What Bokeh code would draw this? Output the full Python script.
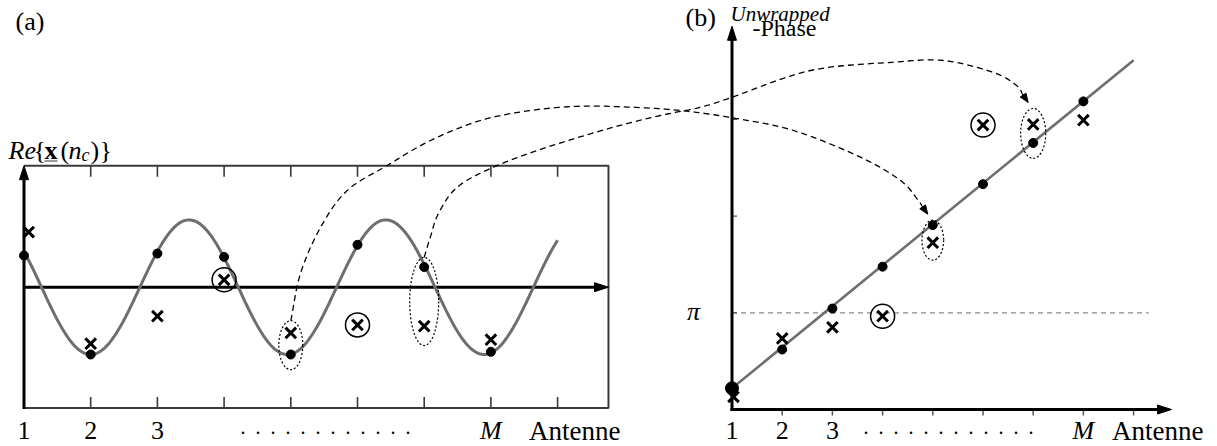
import numpy as np
from bokeh.plotting import figure
from bokeh.models import Range1d
from bokeh.core.properties import value
from bokeh.embed import file_html
from bokeh.resources import INLINE

# ---------------- data ----------------
antenna = [1, 2, 3, 4, 5, 6, 7, 8]
tick_antenna = [2, 3, 4, 5, 6, 7, 8, 9]

# (a) real part of the received sample per antenna
re_clean = [0.47, -1.00, 0.50, 0.45, -1.00, 0.63, 0.30, -0.96]
re_noisy_pos = [1.07, 2, 3, 4, 5, 6, 7, 8]
re_noisy = [0.82, -0.84, -0.43, 0.11, -0.68, -0.56, -0.58, -0.78]
re_circled = [4, 6]                 # antennas with a circled sample
re_period = 2.95                    # antennas per cycle of the carrier
re_trough = 2.0                     # antenna at the first minimum
re_curve_span = [1.0, 9.0]

# (b) unwrapped phase per antenna
ph_clean_pos = [1, 2, 3, 4, 5, 6, 7, 8]
ph_clean = [0.69, 1.95, 3.28, 4.64, 5.99, 7.32, 8.66, 10.01]
ph_noisy_pos = [1.03, 2, 3, 4, 5, 6, 7, 8]
ph_noisy = [0.41, 2.31, 2.67, 3.03, 5.42, 9.24, 9.26, 9.40]
ph_circled = [4, 6]
ph_line_pos = [1, 9]
ph_line = [0.69, 11.35]
phase_ticks = [np.pi, 2 * np.pi, 3 * np.pi]

# highlighted pairs (dotted ellipses): antenna, centre, width, height
ell_a_pos, ell_a_mid, ell_a_w, ell_a_h = [5, 7], [-0.862, -0.212], [0.36, 0.435], [0.728, 1.31]
ell_b_pos, ell_b_mid, ell_b_w, ell_b_h = [5, 7], [5.50, 8.97], [0.432, 0.50], [1.30, 1.62]

# ---------------- layout (canvas pixels) ----------------
W, H = 1217, 446
A_X0, A_DX = 23.5, 66.7      # antenna 1 position and spacing, panel (a)
A_Y0, A_DY = 286.7, 67.3     # zero line and pixels per unit, panel (a)
B_X0, B_DX = 731.5, 50.2     # antenna 1 position and spacing, panel (b)
B_Y0, B_DY = 409.0, 30.78    # zero phase and pixels per radian, panel (b)

A_XMAX, A_YMAX, A_YMIN = 9.763, 1.805, -1.795
B_XMAX, B_YMAX, B_PI_END = 9.755, 12.45, 9.30

FONT = value("'Liberation Serif', 'Times New Roman', serif")
BLACK, GREY, DARK = "black", "#6e6e6e", "#3a3a3a"
TY = -8  # vertical correction for text placement (pixels)


def a_px(n, v):
    return A_X0 + (n - 1) * A_DX, A_Y0 - v * A_DY


def b_px(n, ph):
    return B_X0 + (n - 1) * B_DX, B_Y0 - ph * B_DY


p = figure(width=W, height=H, x_range=Range1d(0, W), y_range=Range1d(H, 0),
           output_backend="svg", toolbar_location=None, min_border=0,
           x_axis_type=None, y_axis_type=None)
p.outline_line_color = None
p.background_fill_color = "white"
p.border_fill_color = "white"

p.extra_x_ranges = {
    "ax": Range1d(1 + (0 - A_X0) / A_DX, 1 + (W - A_X0) / A_DX),
    "bx": Range1d(1 + (0 - B_X0) / B_DX, 1 + (W - B_X0) / B_DX),
}
p.extra_y_ranges = {
    "ay": Range1d((A_Y0 - H) / A_DY, A_Y0 / A_DY),
    "by": Range1d((B_Y0 - H) / B_DY, B_Y0 / B_DY),
}
A = dict(x_range_name="ax", y_range_name="ay")
B = dict(x_range_name="bx", y_range_name="by")


def head(tip, frm, length=14, width=9):
    tip = np.asarray(tip, float)
    d = tip - np.asarray(frm, float)
    d /= np.hypot(*d)
    nrm = np.array([-d[1], d[0]])
    base = tip - d * length
    l, r = base + nrm * width / 2, base - nrm * width / 2
    return [tip[0], l[0], r[0]], [tip[1], l[1], r[1]], base


def smooth(points, k=16):
    pts = np.asarray(points, float)
    ext = np.vstack([2 * pts[0] - pts[1], pts, 2 * pts[-1] - pts[-2]])
    out = []
    for i in range(1, len(ext) - 2):
        p0, p1, p2, p3 = ext[i - 1], ext[i], ext[i + 1], ext[i + 2]
        for t in np.linspace(0, 1, k, endpoint=False):
            out.append(0.5 * (2 * p1 + (-p0 + p2) * t + (2 * p0 - 5 * p1 + 4 * p2 - p3) * t * t
                              + (-p0 + 3 * p1 - 3 * p2 + p3) * t ** 3))
    out.append(pts[-1])
    out = np.array(out)
    return out[:, 0], out[:, 1]


def label(x, y, text, size="26px", style="normal", align="left", **kw):
    p.text(x=x, y=[v + TY for v in y], text=text, text_font=FONT, text_font_size=size,
           text_font_style=style, text_baseline="alphabetic", text_align=align,
           text_color=BLACK, **kw)


heads_x, heads_y = [], []

# ---------------- panel (a) ----------------
p.line([1, A_XMAX, A_XMAX, 1], [A_YMAX, A_YMAX, A_YMIN, A_YMIN], line_color=DARK, line_width=2, **A)
p.segment(x0=tick_antenna, y0=[A_YMAX] * 8, x1=tick_antenna, y1=[A_YMAX - 11 / A_DY] * 8,
          line_color=DARK, line_width=1.6, **A)
p.segment(x0=tick_antenna, y0=[A_YMIN] * 8, x1=tick_antenna, y1=[A_YMIN + 11 / A_DY] * 8,
          line_color=DARK, line_width=1.6, **A)

# axes with arrow heads
hx, hy, base = head(a_px(1, A_YMAX), a_px(1, 0))
heads_x.append(hx); heads_y.append(hy)
p.line([A_X0, A_X0], [a_px(1, A_YMIN)[1] + 1, base[1]], line_color=BLACK, line_width=3)
hx, hy, base = head(a_px(A_XMAX, 0), a_px(1, 0))
heads_x.append(hx); heads_y.append(hy)
p.line([A_X0, base[0]], [A_Y0, A_Y0], line_color=BLACK, line_width=3)

n_fine = np.linspace(re_curve_span[0], re_curve_span[1], 500)
p.line(n_fine, -np.cos(2 * np.pi * (n_fine - re_trough) / re_period),
       line_color=GREY, line_width=3, **A)

p.ellipse(x=ell_a_pos, y=ell_a_mid, width=ell_a_w, height=ell_a_h, fill_color=None,
          line_color=BLACK, line_dash="2 2", line_width=1.2, **A)
p.scatter(antenna, re_clean, marker="circle", size=9, color=BLACK, **A)
p.scatter(re_noisy_pos, re_noisy, marker="x", size=15, line_color=BLACK, line_width=3, **A)
p.scatter(re_circled, [re_noisy[i - 1] for i in re_circled], marker="circle", size=24,
          fill_color=None, line_color=BLACK, line_width=1.5, **A)

# ---------------- panel (b) ----------------
p.line([1, B_PI_END], [np.pi, np.pi], line_color="#8a8a8a", line_dash="5 4", line_width=1.3, **B)
p.segment(x0=[1] * 3, y0=phase_ticks, x1=[1 + 5 / B_DX] * 3, y1=phase_ticks,
          line_color="#555555", line_width=1.3, **B)
p.segment(x0=tick_antenna, y0=[0] * 8, x1=tick_antenna, y1=[-6 / B_DY] * 8,
          line_color="#555555", line_width=1.5, **B)

hx, hy, base = head(b_px(1, B_YMAX), b_px(1, 0))
heads_x.append(hx); heads_y.append(hy)
p.line([B_X0, B_X0], [B_Y0 + 1.5, base[1]], line_color=BLACK, line_width=3)
hx, hy, base = head(b_px(B_XMAX, 0), b_px(1, 0))
heads_x.append(hx); heads_y.append(hy)
p.line([B_X0 - 1.5, base[0]], [B_Y0, B_Y0], line_color=BLACK, line_width=3)

p.line(ph_line_pos, ph_line, line_color=GREY, line_width=2.6, **B)
p.ellipse(x=ell_b_pos, y=ell_b_mid, width=ell_b_w, height=ell_b_h, fill_color=None,
          line_color=BLACK, line_dash="2 2", line_width=1.2, **B)
p.scatter(ph_clean_pos, ph_clean, marker="circle", size=[13] + [9] * 7, color=BLACK, **B)
p.scatter(ph_noisy_pos, ph_noisy, marker="x", size=15, line_color=BLACK, line_width=3, **B)
p.scatter(ph_circled, [ph_noisy[i - 1] for i in ph_circled], marker="circle", size=24,
          fill_color=None, line_color=BLACK, line_width=1.5, **B)

# ---------------- dashed connectors (a) -> (b) ----------------
for k in range(2):
    start = a_px(ell_a_pos[k], ell_a_mid[k] + ell_a_h[k] / 2)
    top = b_px(ell_b_pos[k], ell_b_mid[k] + ell_b_h[k] / 2)
    tip = (top[0] - 5, top[1] - 6)
    if k == 0:
        route = [start, (300, 273), (320, 227), (346.7, 190), (386.7, 165), (430, 140),
                 (480, 120), (530, 110), (580, 105.7), (630, 106.7), (680, 110),
                 (731.7, 117.3), (793, 130), (860, 156.7), (900, 180), (917, 199)]
    else:
        route = [start, (430, 236), (438, 213), (456.7, 186.7), (493, 166.7), (546.7, 146.7),
                 (613, 126.7), (660, 115), (700, 106.7), (731.7, 96.7), (810, 70),
                 (893, 61.7), (943, 60), (993, 72), (1016, 85)]
    hx, hy, base = head(tip, route[-1], length=9, width=7)
    heads_x.append(hx); heads_y.append(hy)
    cx, cy = smooth(route + [tuple(base)])
    p.line(cx, cy, line_color=BLACK, line_dash="6 4", line_width=1.3)

p.patches(heads_x, heads_y, fill_color=BLACK, line_color=BLACK, line_width=1)

# ---------------- texts ----------------
label([15, 685], [29, 25], ["(a)", "(b)"])

# Re{x(n_c)}
label([8], [158], ["Re"], style="italic")
label([33, 60, 90, 99], [158] * 4, ["{", "(", ")", "}"])
label([44], [158], ["x"], style="bold")
p.segment(x0=[44], y0=[160.5], x1=[57], y1=[160.5], line_color="#777777", line_width=1.6)
label([68], [158], ["n"], style="italic")
label([81], [162], ["c"], size="18px", style="italic")

# Unwrapped -Phase
label([730], [21], ["Unwrapped"], size="21px", style="italic")
label([752], [35], ["-Phase"], size="24px")
label([693], [319], ["π"], style="italic", align="center")

# antenna axis labels
for xr in ("ax", "bx"):
    label([1, 2, 3], [438] * 3, ["1", "2", "3"], align="center", x_range_name=xr)
    label([8], [438], ["M"], style="italic", align="center", x_range_name=xr)
    label([8.57], [438], ["Antenne"], size="27px", x_range_name=xr)

dots = "\u00a0\u00a0".join(["."] * 12)
label([240, 863], [434, 434], [dots, dots], size="20px")

open("out.html", "w").write(file_html(p, INLINE))
